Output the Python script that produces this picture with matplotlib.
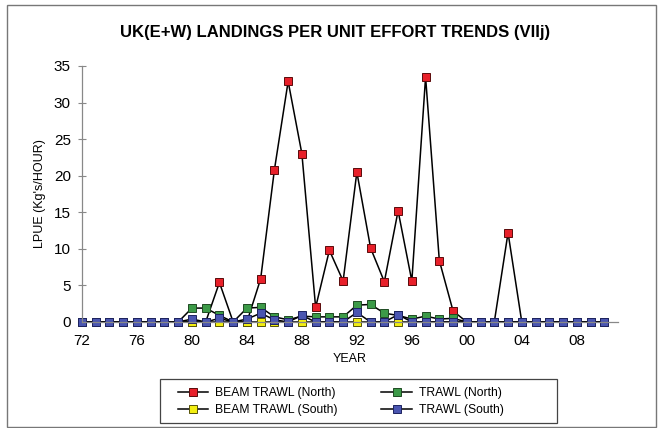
"""
LPUE trends chart, UK(E+W) VIIj
"""
import matplotlib.pyplot as plt
from matplotlib.patches import Rectangle

plt.rcParams['font.family'] = ['Liberation Sans', 'DejaVu Sans']

years = list(range(1972, 2011))

# LPUE values, 1972..2010
beam_north = [0, 0, 0, 0, 0, 0, 0, 0, 0, 0,
              5.4, 0, 0, 5.9, 20.8, 32.9, 23.0, 2.0, 9.8, 5.6,
              20.5, 10.1, 5.5, 15.2, 5.6, 33.5, 8.4, 1.5, 0, 0,
              0, 12.2, 0, 0, 0, 0, 0, 0, 0]
trawl_north = [0, 0, 0, 0, 0, 0, 0, 0, 1.9, 1.9,
               0.9, 0, 1.9, 2.0, 0.7, 0.3, 0.8, 0.7, 0.7, 0.7,
               2.3, 2.4, 1.2, 0.9, 0.4, 0.8, 0.4, 0.5, 0, 0,
               0, 0, 0, 0, 0, 0, 0, 0, 0]
beam_south = [0] * 39
trawl_south = [0, 0, 0, 0, 0, 0, 0, 0, 0.4, 0,
               0.5, 0, 0.4, 1.2, 0.3, 0, 0.9, 0, 0, 0,
               1.3, 0, 0, 1.0, 0, 0, 0, 0, 0, 0,
               0, 0, 0, 0, 0, 0, 0, 0, 0]

xtick_years = list(range(1972, 2011, 4))
xtick_labels = [f"{y % 100:02d}" for y in xtick_years]

series = [
    (beam_north, 'BEAM TRAWL (North)', '#e8202a', '#5a0a0a'),
    (trawl_north, 'TRAWL (North)', '#3c9a48', '#1f4a22'),
    (beam_south, 'BEAM TRAWL (South)', '#f2ee10', '#55520a'),
    (trawl_south, 'TRAWL (South)', '#4a55b0', '#1c2260'),
]

fig = plt.figure(figsize=(6.58, 4.28), dpi=100)
ax = fig.add_axes([0.1246, 0.2477, 0.8146, 0.5981])

handles = {}
for values, label, face, edge in series:
    line, = ax.plot(years, values, color='black', linewidth=1.1,
                    marker='s', markersize=6, markerfacecolor=face,
                    markeredgecolor=edge, markeredgewidth=0.7,
                    label=label, clip_on=False)
    handles[label] = line

ax.set_xlim(1972, 2011)
ax.set_ylim(0, 35)
ax.set_yticks(range(0, 36, 5))
ax.set_xticks(xtick_years)
ax.set_xticklabels(xtick_labels)

for side in ['top', 'right']:
    ax.spines[side].set_visible(False)
for side in ['left', 'bottom']:
    ax.spines[side].set_color('#888888')
    ax.spines[side].set_linewidth(0.9)

ax.tick_params(axis='y', direction='inout', length=6, color='#888888',
               labelsize=11, pad=5)
ax.tick_params(axis='x', direction='inout', length=0, labelsize=11, pad=9)

ax.set_xlabel('YEAR', fontsize=9, labelpad=3)
ax.set_ylabel("LPUE (Kg's/HOUR)", fontsize=9, labelpad=6)

fig.text(0.509, 0.923, 'UK(E+W) LANDINGS PER UNIT EFFORT TRENDS (VIIj)',
         ha='center', va='center', fontsize=12, fontweight='bold')

order = ['BEAM TRAWL (North)', 'BEAM TRAWL (South)',
         'TRAWL (North)', 'TRAWL (South)']
leg = fig.legend([handles[k] for k in order], order, ncol=2,
                 loc='center', bbox_to_anchor=(0.518, 0.062),
                 fontsize=8.7, frameon=False, handlelength=2.5,
                 handletextpad=0.6, columnspacing=3.6,
                 labelspacing=0.45, borderpad=0.2)

# legend box, wider than its content as in the original
fig.patches.append(Rectangle((160 / 658, 5 / 428), 397 / 658, 44 / 428,
                             transform=fig.transFigure, fill=False,
                             edgecolor='#444444', linewidth=0.9))

# chart area border
fig.patches.append(Rectangle((7 / 658, 1 / 428), 649 / 658, 422 / 428,
                             transform=fig.transFigure, fill=False,
                             edgecolor='#777777', linewidth=1.0))

plt.savefig('out.png', dpi=100)
